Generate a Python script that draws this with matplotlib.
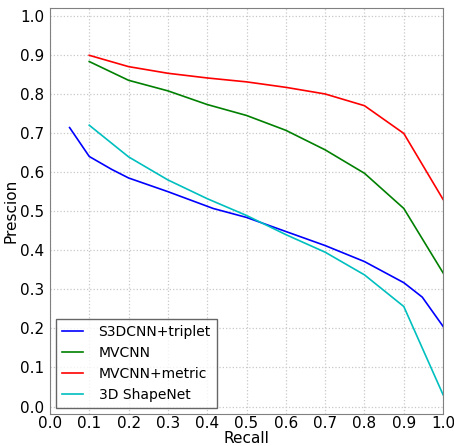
import matplotlib
matplotlib.use("Agg")
import matplotlib.pyplot as plt

# precision-recall curves
recall_s3d = [0.05, 0.1, 0.157, 0.2, 0.3, 0.415, 0.5, 0.6, 0.7, 0.8, 0.9, 0.947, 1.0]
prec_s3d = [0.714, 0.640, 0.607, 0.585, 0.550, 0.507, 0.484, 0.448, 0.412, 0.371, 0.317, 0.280, 0.205]

recall = [0.1, 0.2, 0.3, 0.4, 0.5, 0.6, 0.7, 0.8, 0.9, 1.0]
prec_mvcnn = [0.883, 0.835, 0.808, 0.773, 0.745, 0.707, 0.657, 0.597, 0.507, 0.342]
prec_metric = [0.899, 0.870, 0.853, 0.841, 0.831, 0.817, 0.800, 0.770, 0.699, 0.530]
prec_shapenet = [0.720, 0.639, 0.580, 0.532, 0.489, 0.440, 0.395, 0.337, 0.256, 0.030]

fig = plt.figure(figsize=(4.54, 4.46), dpi=100)
ax = fig.add_axes([0.110, 0.071, 0.866, 0.911])

ax.plot(recall_s3d, prec_s3d, color='b', lw=1.2, label='S3DCNN+triplet')
ax.plot(recall, prec_mvcnn, color='g', lw=1.2, label='MVCNN')
ax.plot(recall, prec_metric, color='r', lw=1.2, label='MVCNN+metric')
ax.plot(recall, prec_shapenet, color='c', lw=1.2, label='3D ShapeNet')

ax.set_xlim(0, 1.0)
ax.set_ylim(-0.02, 1.02)
ax.set_xticks([i / 10 for i in range(11)])
ax.set_yticks([i / 10 for i in range(11)])
ax.grid(True, linestyle=':', color='#c8c8c8', lw=0.9)
ax.tick_params(length=0, labelsize=11, pad=4)
ax.tick_params(axis='x', pad=1.5)
for s in ax.spines.values():
    s.set_color('#808080')
ax.set_xlabel('Recall', fontsize=11, labelpad=0)
ax.set_ylabel('Prescion', fontsize=11, labelpad=1)

leg = ax.legend(loc='lower left', fontsize=10, fancybox=False, handlelength=1.45,
                handletextpad=1.15, borderpad=0.45, labelspacing=0.5,
                borderaxespad=0.45)
leg.get_frame().set_edgecolor('#404040')

fig.savefig('out.png', dpi=100)
